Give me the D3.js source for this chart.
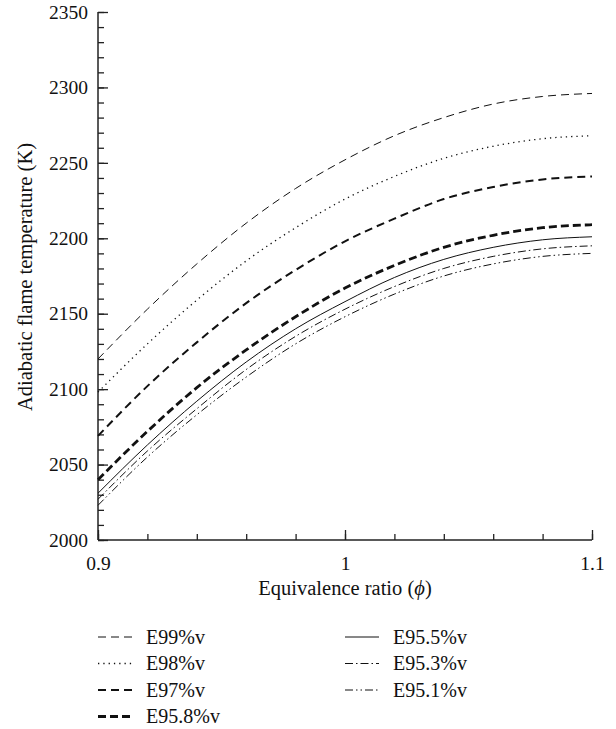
<!DOCTYPE html>
<html>
<head>
<meta charset="utf-8">
<script src="https://cdn.jsdelivr.net/npm/d3@7"></script>
<style>
  body { margin: 0; background: #fff; }
  text { font-family: "Liberation Serif", "Times New Roman", serif; fill: #111; }
</style>
</head>
<body>
<svg width="616" height="729"></svg>
<script>
// equivalence ratio samples
const phi = [0.9, 0.92, 0.94, 0.96, 0.98, 1.0, 1.02, 1.04, 1.06, 1.08, 1.1];

// adiabatic flame temperature (K)
const e99 = [2120, 2153, 2183, 2210, 2233, 2252, 2268, 2280, 2289, 2294, 2296];
const e98 = [2098, 2130, 2159, 2185, 2207, 2226, 2241, 2253, 2261, 2266, 2268];
const e97 = [2069, 2102, 2131, 2157, 2179, 2198, 2213, 2226, 2234, 2239, 2241];
const e958 = [2040, 2072, 2101, 2126, 2148, 2167, 2182, 2194, 2202, 2207, 2209];
const e955 = [2031, 2063, 2092, 2118, 2140, 2158, 2174, 2186, 2194, 2199, 2201];
const e953 = [2027, 2059, 2087, 2113, 2135, 2153, 2168, 2180, 2188, 2193, 2195];
const e951 = [2023, 2055, 2083, 2108, 2130, 2148, 2163, 2175, 2183, 2188, 2190];

const seriesNames = ["E99%v", "E98%v", "E97%v", "E95.8%v", "E95.5%v", "E95.3%v", "E95.1%v"];
const seriesValues = [e99, e98, e97, e958, e955, e953, e951];

const xTicks = [0.9, 1, 1.1];
const yTicks = [2000, 2050, 2100, 2150, 2200, 2250, 2300, 2350];

// line styles per series
const styles = [
  { width: 1, dash: "8,5" },
  { width: 1.3, dash: "1.3,4" },
  { width: 2, dash: "8,5" },
  { width: 2.8, dash: "8,4" },
  { width: 1, dash: null },
  { width: 1, dash: "8,3,1.5,3" },
  { width: 1, dash: "8,3,1.5,3,1.5,3" }
];

const svg = d3.select("svg");
const x = d3.scaleLinear().domain([0.9, 1.1]).range([98, 592]);
const y = d3.scaleLinear().domain([2000, 2350]).range([540, 12]);

// minor ticks
svg.append("g")
  .attr("transform", "translate(98,0)")
  .call(d3.axisLeft(y).tickValues(d3.range(2000, 2351, 10)).tickSize(-6).tickFormat(""))
  .call(g => g.select(".domain").remove());
svg.append("g")
  .attr("transform", "translate(0,540)")
  .call(d3.axisBottom(x).tickValues(d3.range(0, 11).map(i => 0.9 + i * 0.02)).tickSize(-6).tickFormat(""))
  .call(g => g.select(".domain").remove());

// major ticks + labels
const yAxis = svg.append("g")
  .attr("transform", "translate(98,0)")
  .call(d3.axisLeft(y).tickValues(yTicks).tickSize(-10).tickPadding(10).tickFormat(d3.format("d")));
const xAxis = svg.append("g")
  .attr("transform", "translate(0,540)")
  .call(d3.axisBottom(x).tickValues(xTicks).tickSize(-10).tickPadding(10).tickFormat(d => d));

svg.selectAll(".tick line").attr("stroke", "#222").attr("stroke-width", 1.3);
[yAxis, xAxis].forEach(g => {
  g.select(".domain").attr("stroke", "#222").attr("stroke-width", 1.5)
    .attr("d", g === yAxis ? "M0,540V12" : "M98,0H592");
  g.selectAll("text").attr("font-size", 19.5).attr("font-family", "Liberation Serif").attr("fill", "#111");
});
xAxis.selectAll("text").attr("dy", "1.05em");

// curves
const line = d3.line()
  .x((d, i) => x(phi[i]))
  .y(d => y(d))
  .curve(d3.curveMonotoneX);

svg.append("g")
  .selectAll("path")
  .data(seriesValues)
  .enter()
  .append("path")
  .attr("d", d => line(d))
  .attr("fill", "none")
  .attr("stroke", "#111")
  .attr("stroke-width", (d, i) => styles[i].width)
  .attr("stroke-dasharray", (d, i) => styles[i].dash);

// axis titles
svg.append("text")
  .attr("x", 345).attr("y", 595)
  .attr("text-anchor", "middle")
  .attr("font-size", 20.5)
  .html('Equivalence ratio (<tspan font-style="italic">ϕ</tspan>)');

svg.append("text")
  .attr("transform", "translate(32,277) rotate(-90)")
  .attr("text-anchor", "middle")
  .attr("font-size", 20.5)
  .text("Adiabatic flame temperature (K)");

// legend
const legend = svg.append("g")
  .selectAll("g")
  .data(seriesNames)
  .enter()
  .append("g")
  .attr("transform", (d, i) => i < 4
    ? `translate(98,${637 + i * 26.5})`
    : `translate(345,${637 + (i - 4) * 26.5})`);

legend.append("line")
  .attr("x1", 0).attr("x2", 34)
  .attr("stroke", "#111")
  .attr("stroke-width", (d, i) => styles[i].width)
  .attr("stroke-dasharray", (d, i) => styles[i].dash);

legend.append("text")
  .attr("x", 48).attr("y", 6.5)
  .attr("font-size", 20)
  .text(d => d);
</script>
</body>
</html>
